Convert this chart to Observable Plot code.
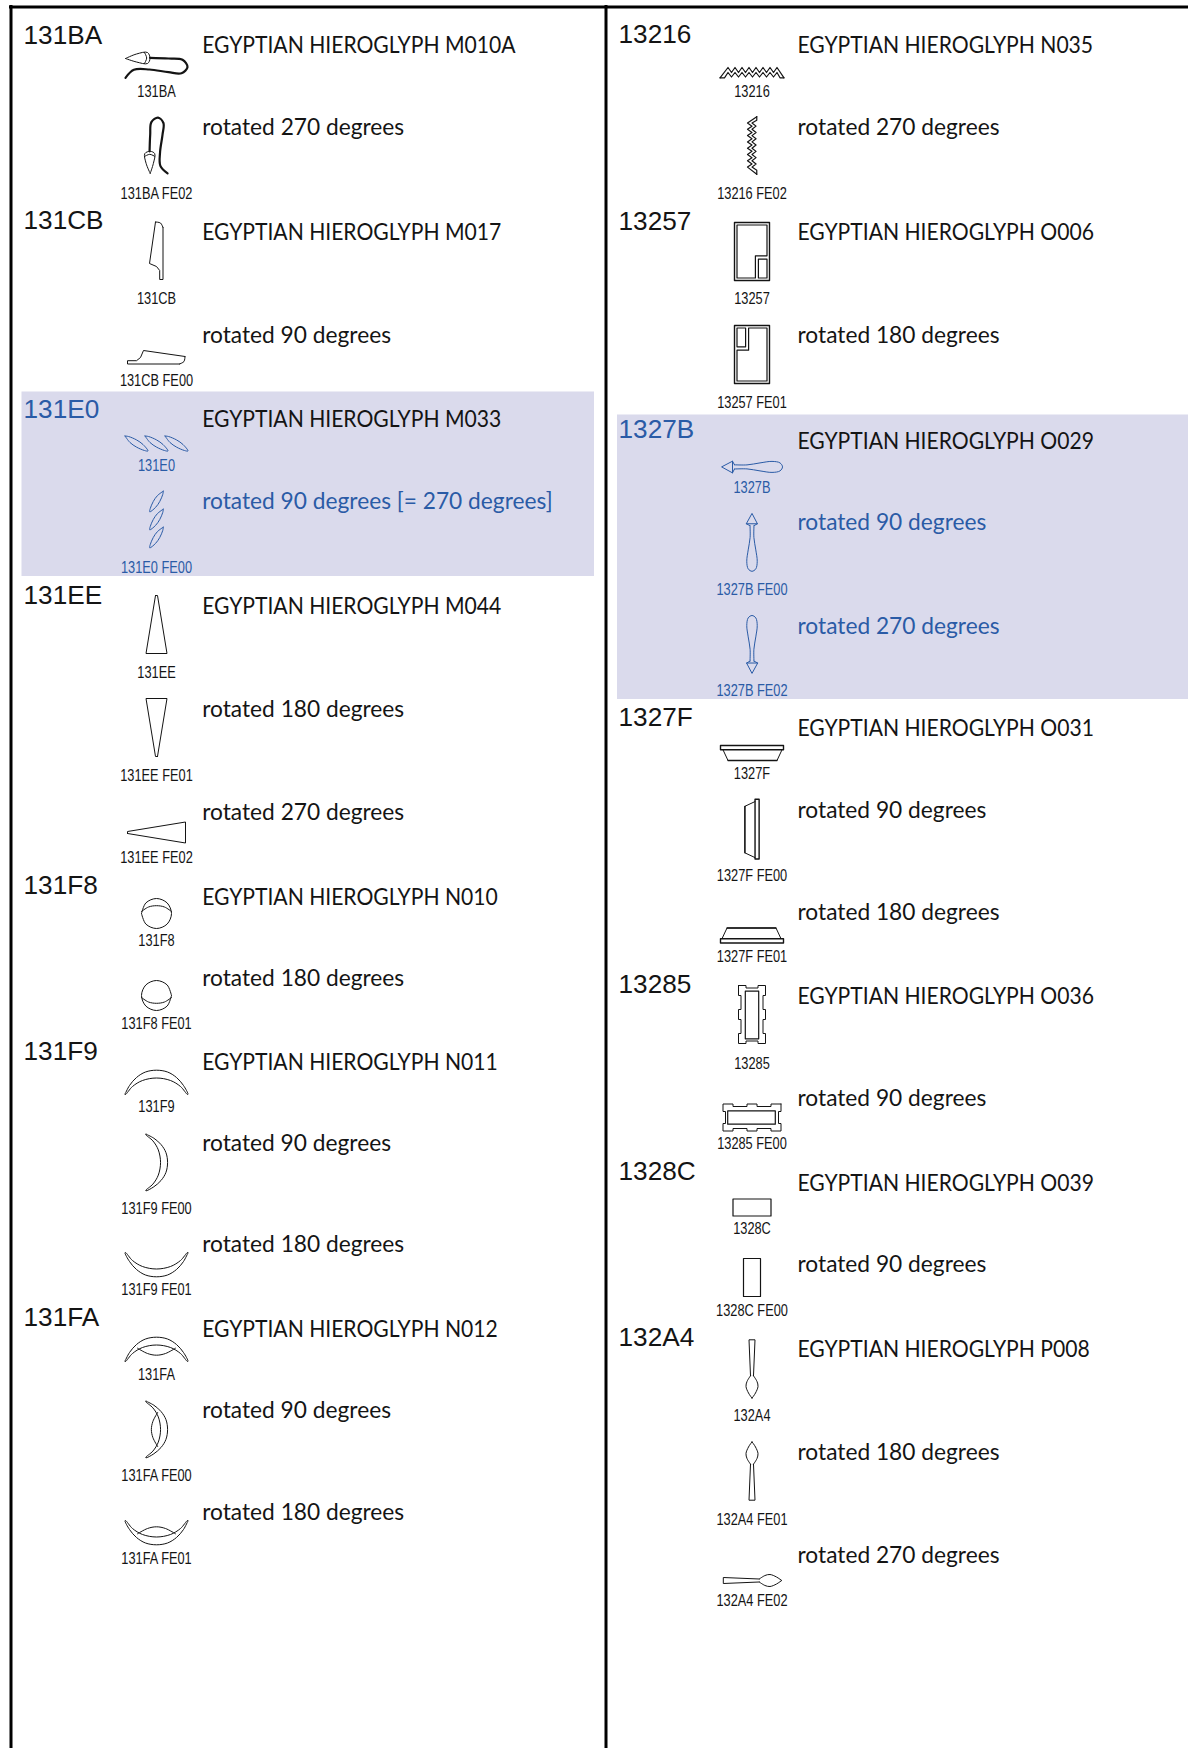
<!DOCTYPE html>
<html>
<head>
<meta charset="utf-8">
<style>html,body{margin:0;padding:0;background:#fff}svg{display:block}</style>
<script src="https://cdn.jsdelivr.net/npm/d3@7"></script>
<script src="https://cdn.jsdelivr.net/npm/@observablehq/plot@0.6"></script>
</head>
<body>
<script>
// ---- content ----
const codes = ["131BA","131CB","131E0","131EE","131F8","131F9","131FA","13216","13257","1327B","1327F","13285","1328C","132A4"];
const glyphNames = ["M010A","M017","M033","M044","N010","N011","N012","N035","O006","O029","O031","O036","O039","P008"];
const rotations = [[270],[90],[90],[180,270],[180],[90,180],[90,180],[270],[180],[90,270],[90,180],[90],[90],[180,270]];
const highlighted = ["131E0","1327B"];
const selectors = {90:"FE00",180:"FE01",270:"FE02"};
const rotationNotes = {"131E0 90":" [= 270 degrees]"};

// ---- page layout (pixels of the page, used as the scales' domain) ----
const columnOf = [0,0,0,0,0,0,0,1,1,1,1,1,1,1];
const codeX = [23,618], glyphX = [156,751.5], nameX = [201.7,797];
const codeY = [34.8,219.8,409.3,595.3,885.3,1051.3,1317.3,34.3,221.3,429.3,716.9,984.3,1171.3,1337.3];
const textY = [[45.2,127],[232.4,335.4],[419.6,501.5],[605.9,708.8,812.4],[896.9,978],[1062.6,1143.4,1244.5],[1329,1410.5,1512.4],
               [45.2,127],[232.4,335.4],[441.2,522.2,626.3],[728.3,810.3,911.9],[995.9,1098.4],[1183,1263.8],[1349.1,1452,1555.3]];
const glyphY = [[65,145],[250,357],[443,519],[624,727,832],[913,995],[1082,1162,1264],[1349,1429,1532],
                [72,145],[251,354],[466.4,541.8,644],[752.5,828.6,935],[1014,1117],[1207,1277],[1368,1471,1580]];
const labelY = [[91.4,192.8],[298.7,380],[464.9,567],[672,775.6,857],[940.6,1023],[1106.6,1208,1289.4],[1374,1475.5,1558],
                [91.4,192.8],[298.7,402.3],[487,589.5,689.8],[773.4,874.8,956.2],[1063,1143.4],[1228,1310.6],[1415,1519,1600]];
const bands = [{x1:21.5,x2:594,y1:391.5,y2:576},{x1:617,x2:1188,y1:414.5,y2:699}];
const frameV = [10.5,605.5];
const frameH = 6.5;
// wide glyphs are drawn a little smaller when turned upright
const uprightScale = {M010A:0.9,M033:0.9,N011:0.9,N012:0.9,N035:0.9,O029:0.95,O031:0.95};

// ---- glyph outlines, relative to the glyph centre; s = smooth ----
const crescent = [[-31.5,11.7],[-27,3],[-20,-5],[-11,-10.5],[0,-12.3],[11,-10.5],[20,-5],[27,3],[31.5,11.7],[31,12],[24,4],[14,-2],[0,-4.5],[-14,-2],[-24,4],[-31,12],[-31.5,11.7]];
const leaf = [[-11.5,-7.5],[-8,-7],[0,-3.6],[6.5,1],[11.5,7.5],[8,7],[0,3.6],[-6.5,-1],[-11.5,-7.5]];
const offset = (pts,dx) => pts.map(([x,y]) => [x+dx,y]);
const outlines = {
  M010A:[{s:1,p:[[-31,-7],[-20,-11.5],[-9,-13],[-6.5,-7],[-9,-2],[-20,-3.5],[-31,-7]]},
         {s:1,p:[[-12,-13],[-9.8,-7.5],[-12,-2]]},
         {s:1,w:2.2,p:[[-6.5,-7.7],[12,-7],[26,-5.7],[31,1.7],[25,7.7],[12,6.7],[-7,4],[-22.6,4.3],[-31,12.3]]}],
  M017:[{s:1,p:[[-1,-28.5],[4,-27.5],[6.5,-23]]},
        {p:[[6.5,-23],[6.5,29],[3.2,29],[3.2,20],[0,16],[-7,13],[-1,-28.5]]}],
  M033:[{s:1,p:offset(leaf,-20)},{s:1,p:leaf},{s:1,p:offset(leaf,20)}],
  M044:[{p:[[-1,-29],[1,-29],[10.5,29],[-10.5,29],[-1,-29]]}],
  N010:[{s:1,p:[[-15,0],[-10.6,-10.6],[0,-15],[10.6,-10.6],[15,0],[10.6,10.6],[0,15],[-10.6,10.6],[-15,0]]},
        {s:1,p:[[-15,-2],[-8,-6.5],[0,-7.8],[8,-6.5],[15,-2]]}],
  N011:[{s:1,p:crescent}],
  N012:[{s:1,p:crescent},{s:1,p:[[-19,-1.3],[-9,4],[0,5.7],[9,4],[19,-1.3]]}],
  N035:[{w:1.2,p:[[-32,5.3],[-24,-5],[-20.5,0],[-17,-5],[-13.5,0],[-10,-5],[-6.5,0],[-3,-5],[0.5,0],[4,-5],[7.5,0],[11,-5],[14.5,0],[18,-5],[21.5,0],[25,-5],[32,5.3]]},
        {w:1.2,p:[[-32,5.3],[-27.5,5.3],[-24,0],[-20.5,4.5],[-17,0],[-13.5,4.5],[-10,0],[-6.5,4.5],[-3,0],[0.5,4.5],[4,0],[7.5,4.5],[11,0],[14.5,4.5],[18,0],[21.5,4.5],[25,0],[28,5.3],[32,5.3]]}],
  O006:[{w:1.4,p:[[-17.5,-29],[17.5,-29],[17.5,29],[-17.5,29],[-17.5,-29]]},
        {w:1.2,p:[[-15,-26.5],[15,-26.5],[15,4.3],[3.4,4.3],[3.4,26.5],[-15,26.5],[-15,-26.5]]},
        {w:1.2,p:[[6.4,7.7],[15,7.7],[15,26.5],[6.4,26.5],[6.4,7.7]]}],
  O029:[{p:[[-17.5,-2.1],[-19.5,-5.7],[-30.4,0],[-19.5,6],[-17.5,2.1]]},
        {p:[[-19.5,-5.7],[-19.5,6]]},
        {s:1,p:[[-17.5,-2.1],[-5,-2],[8,-4],[20,-5.5],[28,-4],[30.5,0],[28,4],[20,5.5],[8,4],[-5,2],[-17.5,2.1]]}],
  O031:[{w:1.4,p:[[-31.5,-7.5],[31.5,-7.5],[31.5,-3.2],[-31.5,-3.2],[-31.5,-7.5]]},
        {p:[[-29,-3.2],[-24,7.5],[25,7.5],[30,-3.2]]},{w:1.3,p:[[-24,7.5],[25,7.5]]}],
  O036:[{p:[[-13.5,-29],[-6,-29],[-6,-26.5],[6,-26.5],[6,-29],[13.5,-29],[13.5,-19],[11,-19],[11,-5],[13.5,-5],[13.5,5],[11,5],[11,19],[13.5,19],[13.5,29],[6,29],[6,26.5],[-6,26.5],[-6,29],[-13.5,29],[-13.5,19],[-11,19],[-11,5],[-13.5,5],[-13.5,-5],[-11,-5],[-11,-19],[-13.5,-19],[-13.5,-29]]},
        {w:1.2,p:[[-6.7,-23.3],[6.7,-23.3],[6.7,24.3],[-6.7,24.3],[-6.7,-23.3]]}],
  O039:[{w:1.2,p:[[-19,-8.5],[19,-8.5],[19,8.5],[-19,8.5],[-19,-8.5]]}],
  P008:[{p:[[-1.5,7.3],[-3,-28.7],[3,-28.7],[1.5,7.3]]},
        {s:1,p:[[1.5,7.3],[5,13],[6,18],[3.5,24.5],[0,29.7]]},
        {s:1,p:[[0,29.7],[-3.5,24.5],[-6,18],[-5,13],[-1.5,7.3]]}]
};

// ---- tables built from the lists ----
const BLUE = "#2a5ba6", INK = "#141414", BAND = "#dadaec";
const rotate = ([x,y],a) => a===90 ? [-y,x] : a===180 ? [-x,-y] : a===270 ? [y,-x] : [x,y];

const codeRows = codes.map((code,i) => ({code, x:codeX[columnOf[i]], y:codeY[i], color:highlighted.includes(code)?BLUE:INK}));
const nameRows = [], labelRows = [], strokes = [];
codes.forEach((code,i) => {
  const col = columnOf[i], hi = highlighted.includes(code), color = hi?BLUE:INK, glyph = glyphNames[i];
  [0,...rotations[i]].forEach((a,k) => {
    nameRows.push({x:nameX[col], y:textY[i][k], color: a && hi ? BLUE : INK,
      text: a===0 ? "EGYPTIAN HIEROGLYPH "+glyph : "rotated "+a+" degrees"+(rotationNotes[code+" "+a]||"")});
    labelRows.push({x:glyphX[col], y:labelY[i][k], color, text: a===0 ? code : code+" "+selectors[a]});
    const k2 = (a===90||a===270) ? (uprightScale[glyph]||1) : 1;
    outlines[glyph].forEach((o,m) => {
      o.p.forEach(pt => {
        const [dx,dy] = rotate(pt,a);
        strokes.push({id:code+"-"+a+"-"+m, smooth:!!o.s, w:o.w||1, color,
          x:glyphX[col]+dx*k2, y:glyphY[i][k]+dy*k2});
      });
    });
  });
});

const plot = Plot.plot({
  width:1188, height:1748, margin:0,
  x:{domain:[0,1188],range:[0,1188],axis:null},
  y:{domain:[0,1748],range:[0,1748],axis:null},
  color:{type:"identity"},
  marks:[
    Plot.rect(bands,{x1:"x1",x2:"x2",y1:"y1",y2:"y2",fill:BAND}),
    Plot.ruleX(frameV,{y1:5,y2:1748,stroke:"#000",strokeWidth:3}),
    Plot.ruleY([frameH],{x1:9,x2:1188,stroke:"#000",strokeWidth:3}),
    Plot.line(strokes.filter(d=>!d.smooth),{x:"x",y:"y",z:"id",stroke:"color",strokeWidth:"w",curve:"linear"}),
    Plot.line(strokes.filter(d=>d.smooth),{x:"x",y:"y",z:"id",stroke:"color",strokeWidth:"w",curve:"catmull-rom"}),
    Plot.text(codeRows,{x:"x",y:"y",text:"code",fill:"color",textAnchor:"start",fontSize:26.2,fontFamily:"Liberation Sans"}),
    Plot.text(nameRows,{x:"x",y:"y",text:"text",fill:"color",textAnchor:"start",fontSize:22.5,fontFamily:"Lato, 'Noto Sans', sans-serif"}),
    Plot.text(labelRows,{x:"x",y:"y",text:"text",fill:"color",textAnchor:"middle",fontSize:16.5,fontFamily:"'Liberation Sans',sans-serif"})
  ]
});
document.body.appendChild(plot);

// the reference's faces run narrower or wider than the installed ones: fit widths
const fit = (sel,factor) => plot.querySelectorAll(sel).forEach(t => {
  t.setAttribute("textLength", (t.getComputedTextLength()*factor(t.textContent)).toFixed(1));
  t.setAttribute("lengthAdjust","spacingAndGlyphs");
});
fit('g[font-size="22.5"] text', s => s.startsWith("EGYPTIAN") ? 0.938 : 1.01);
fit('g[font-size="16.5"] text', () => 0.775);
</script>
</body>
</html>
